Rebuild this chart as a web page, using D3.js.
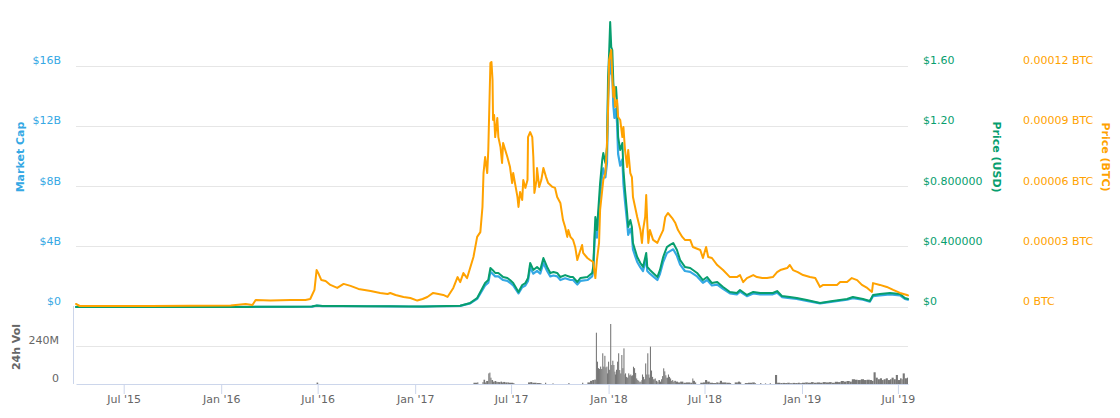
<!DOCTYPE html>
<html><head><meta charset="utf-8">
<script src="https://cdn.jsdelivr.net/npm/d3@7"></script>
<style>body{margin:0;background:#fff}svg{display:block;font-family:"DejaVu Sans",sans-serif}</style>
</head><body><svg id="c" width="1120" height="418"></svg>
<script>
// ---- data ----
const priceUsd = [["2015-04-02",0.0007],["2015-05-01",0.0004],["2015-07-01",0.0003],["2015-09-01",0.0002],["2015-12-01",0.0002],["2016-01-15",0.0002],["2016-02-20",0.0007],["2016-03-10",0.0015],["2016-05-15",0.0017],["2016-06-20",0.003],["2016-06-29",0.0095],["2016-07-10",0.007],["2016-08-15",0.006],["2016-10-01",0.0055],["2016-11-15",0.0045],["2016-12-20",0.0037],["2017-01-15",0.0035],["2017-02-10",0.0055],["2017-03-03",0.0065],["2017-03-27",0.008],["2017-04-15",0.027],["2017-04-28",0.060],["2017-05-08",0.126],["2017-05-13",0.159],["2017-05-19",0.179],["2017-05-23",0.259],["2017-05-27",0.246],["2017-06-01",0.226],["2017-06-07",0.226],["2017-06-16",0.199],["2017-06-24",0.193],["2017-06-29",0.179],["2017-07-05",0.159],["2017-07-15",0.100],["2017-07-22",0.146],["2017-07-28",0.159],["2017-08-02",0.193],["2017-08-06",0.292],["2017-08-12",0.246],["2017-08-19",0.266],["2017-08-25",0.246],["2017-08-31",0.325],["2017-09-07",0.266],["2017-09-13",0.226],["2017-09-19",0.232],["2017-09-26",0.226],["2017-10-02",0.199],["2017-10-11",0.212],["2017-10-21",0.199],["2017-10-26",0.199],["2017-11-03",0.166],["2017-11-09",0.193],["2017-11-22",0.199],["2017-12-01",0.226],["2017-12-03",0.266],["2017-12-07",0.598],["2017-12-10",0.511],["2017-12-16",0.823],["2017-12-20",0.976],["2017-12-22",1.022],["2017-12-26",0.956],["2017-12-29",1.062],["2017-12-31",1.527],["2018-01-02",1.686],["2018-01-04",1.892],["2018-01-06",1.726],["2018-01-08",1.706],["2018-01-10",1.487],["2018-01-12",1.394],["2018-01-15",1.461],["2018-01-17",1.354],["2018-01-19",1.129],["2018-01-23",1.042],["2018-01-27",1.089],["2018-01-29",0.910],["2018-02-01",0.777],["2018-02-05",0.624],["2018-02-07",0.531],["2018-02-11",0.578],["2018-02-14",0.531],["2018-02-16",0.425],["2018-02-20",0.378],["2018-02-24",0.332],["2018-03-02",0.292],["2018-03-07",0.266],["2018-03-13",0.359],["2018-03-15",0.266],["2018-03-20",0.246],["2018-03-26",0.226],["2018-04-03",0.199],["2018-04-08",0.246],["2018-04-14",0.332],["2018-04-21",0.398],["2018-04-27",0.412],["2018-05-03",0.425],["2018-05-10",0.378],["2018-05-16",0.312],["2018-05-25",0.266],["2018-06-04",0.259],["2018-06-17",0.226],["2018-06-28",0.179],["2018-07-06",0.199],["2018-07-15",0.159],["2018-07-25",0.166],["2018-08-05",0.133],["2018-08-18",0.100],["2018-08-31",0.093],["2018-09-06",0.113],["2018-09-19",0.080],["2018-10-01",0.100],["2018-10-14",0.093],["2018-11-07",0.093],["2018-11-15",0.106],["2018-11-24",0.073],["2018-12-09",0.066],["2018-12-22",0.060],["2019-01-10",0.046],["2019-02-04",0.027],["2019-02-28",0.040],["2019-03-27",0.053],["2019-04-07",0.066],["2019-04-26",0.053],["2019-05-09",0.040],["2019-05-15",0.080],["2019-05-28",0.086],["2019-06-16",0.093],["2019-07-05",0.086],["2019-07-14",0.060],["2019-07-20",0.053]];

// market cap in billions USD
const marketCap = [["2015-04-02",0.0063],["2015-05-01",0.0036],["2015-07-01",0.0027],["2015-09-01",0.0018],["2015-12-01",0.0018],["2016-01-15",0.0018],["2016-02-20",0.0063],["2016-03-10",0.0135],["2016-05-15",0.0153],["2016-06-20",0.027],["2016-06-29",0.0855],["2016-07-10",0.063],["2016-08-15",0.054],["2016-10-01",0.0495],["2016-11-15",0.0405],["2016-12-20",0.0333],["2017-01-15",0.0315],["2017-02-10",0.0495],["2017-03-03",0.0585],["2017-03-27",0.072],["2017-04-15",0.243],["2017-04-28",0.54],["2017-05-08",1.134],["2017-05-13",1.431],["2017-05-19",1.611],["2017-05-23",2.331],["2017-05-27",2.214],["2017-06-01",2.034],["2017-06-07",2.034],["2017-06-16",1.791],["2017-06-24",1.737],["2017-06-29",1.611],["2017-07-05",1.431],["2017-07-15",0.90],["2017-07-22",1.314],["2017-07-28",1.431],["2017-08-02",1.737],["2017-08-06",2.628],["2017-08-12",2.214],["2017-08-19",2.394],["2017-08-25",2.214],["2017-08-31",2.925],["2017-09-07",2.394],["2017-09-13",2.034],["2017-09-19",2.088],["2017-09-26",2.034],["2017-10-02",1.791],["2017-10-11",1.908],["2017-10-21",1.791],["2017-10-26",1.791],["2017-11-03",1.494],["2017-11-09",1.737],["2017-11-22",1.791],["2017-12-01",2.034],["2017-12-03",2.394],["2017-12-07",5.38],["2017-12-10",4.60],["2017-12-16",7.41],["2017-12-20",8.78],["2017-12-22",9.20],["2017-12-26",8.60],["2017-12-29",9.56],["2017-12-31",13.74],["2018-01-02",15.17],["2018-01-04",17.03],["2018-01-06",15.53],["2018-01-08",15.35],["2018-01-10",13.38],["2018-01-12",12.55],["2018-01-15",13.15],["2018-01-17",12.19],["2018-01-19",10.16],["2018-01-23",9.38],["2018-01-27",9.80],["2018-01-29",8.19],["2018-02-01",6.99],["2018-02-05",5.62],["2018-02-07",4.78],["2018-02-11",5.20],["2018-02-14",4.78],["2018-02-16",3.83],["2018-02-20",3.40],["2018-02-24",2.99],["2018-03-02",2.63],["2018-03-07",2.39],["2018-03-13",3.23],["2018-03-15",2.39],["2018-03-20",2.21],["2018-03-26",2.03],["2018-04-03",1.79],["2018-04-08",2.21],["2018-04-14",2.99],["2018-04-21",3.58],["2018-04-27",3.71],["2018-05-03",3.83],["2018-05-10",3.40],["2018-05-16",2.81],["2018-05-25",2.39],["2018-06-04",2.33],["2018-06-17",2.03],["2018-06-28",1.61],["2018-07-06",1.79],["2018-07-15",1.43],["2018-07-25",1.49],["2018-08-05",1.20],["2018-08-18",0.90],["2018-08-31",0.84],["2018-09-06",1.02],["2018-09-19",0.72],["2018-10-01",0.90],["2018-10-14",0.84],["2018-11-07",0.84],["2018-11-15",0.95],["2018-11-24",0.66],["2018-12-09",0.59],["2018-12-22",0.54],["2019-01-10",0.41],["2019-02-04",0.24],["2019-02-28",0.36],["2019-03-27",0.48],["2019-04-07",0.59],["2019-04-26",0.48],["2019-05-09",0.36],["2019-05-15",0.72],["2019-05-28",0.77],["2019-06-16",0.84],["2019-07-05",0.77],["2019-07-14",0.54],["2019-07-20",0.48]];

const priceBtc = [["2015-04-02",0.0000015],["2015-04-09",0.0000005],["2015-08-21",0.0000005],["2016-01-19",0.00000075],["2016-02-16",0.0000015],["2016-02-29",0.000001],["2016-03-06",0.0000035],["2016-04-03",0.0000032],["2016-05-11",0.0000035],["2016-06-08",0.0000035],["2016-06-17",0.000004],["2016-06-25",0.0000085],["2016-06-29",0.0000184],["2016-07-03",0.0000164],["2016-07-08",0.0000134],["2016-07-16",0.0000129],["2016-07-25",0.000011],["2016-08-07",0.0000095],["2016-08-19",0.0000115],["2016-09-01",0.0000105],["2016-09-16",0.000009],["2016-10-09",0.000008],["2016-10-27",0.000007],["2016-11-10",0.0000065],["2016-11-15",0.000007],["2016-11-25",0.000006],["2016-12-10",0.000005],["2016-12-23",0.0000045],["2017-01-05",0.0000032],["2017-01-15",0.000004],["2017-01-24",0.000005],["2017-02-04",0.000007],["2017-02-14",0.0000065],["2017-02-23",0.000006],["2017-03-03",0.000005],["2017-03-14",0.0000095],["2017-03-22",0.0000149],["2017-03-27",0.0000124],["2017-04-02",0.0000169],["2017-04-09",0.0000144],["2017-04-21",0.0000249],["2017-04-28",0.0000349],["2017-05-04",0.0000373],["2017-05-08",0.0000498],["2017-05-10",0.0000667],["2017-05-13",0.0000747],["2017-05-17",0.0000667],["2017-05-19",0.0000782],["2017-05-23",0.0001215],["2017-05-25",0.000122],["2017-05-27",0.000113],["2017-05-28",0.0000931],["2017-05-30",0.0000956],["2017-06-01",0.0000846],["2017-06-05",0.0000941],["2017-06-07",0.0000846],["2017-06-11",0.0000797],["2017-06-14",0.0000717],["2017-06-16",0.0000817],["2017-06-20",0.0000782],["2017-06-24",0.0000747],["2017-06-29",0.0000697],["2017-07-03",0.0000617],["2017-07-05",0.0000667],["2017-07-13",0.0000548],["2017-07-15",0.0000498],["2017-07-18",0.0000573],["2017-07-22",0.0000533],["2017-07-24",0.0000632],["2017-07-28",0.0000593],["2017-08-01",0.0000632],["2017-08-02",0.0000846],["2017-08-06",0.0000871],["2017-08-10",0.0000846],["2017-08-12",0.0000747],["2017-08-14",0.0000568],["2017-08-18",0.0000632],["2017-08-19",0.0000692],["2017-08-23",0.0000598],["2017-08-27",0.0000632],["2017-08-31",0.0000692],["2017-09-05",0.0000647],["2017-09-09",0.0000617],["2017-09-17",0.0000598],["2017-09-22",0.0000593],["2017-09-26",0.0000548],["2017-10-02",0.0000518],["2017-10-07",0.0000433],["2017-10-11",0.0000398],["2017-10-15",0.0000349],["2017-10-17",0.0000383],["2017-10-21",0.0000349],["2017-10-26",0.0000334],["2017-10-30",0.0000299],["2017-11-03",0.0000234],["2017-11-07",0.0000269],["2017-11-12",0.0000309],["2017-11-14",0.0000269],["2017-11-22",0.0000244],["2017-11-27",0.0000234],["2017-12-03",0.0000224],["2017-12-07",0.0000144],["2017-12-10",0.0000234],["2017-12-14",0.0000319],["2017-12-16",0.0000483],["2017-12-22",0.0000632],["2017-12-26",0.0000667],["2017-12-29",0.0000817],["2017-12-31",0.0000981],["2018-01-02",0.000123],["2018-01-06",0.000128],["2018-01-08",0.0001145],["2018-01-10",0.0001046],["2018-01-12",0.0001095],["2018-01-13",0.0000996],["2018-01-17",0.0001031],["2018-01-19",0.0000946],["2018-01-23",0.0000931],["2018-01-27",0.0000846],["2018-01-29",0.0000896],["2018-02-01",0.0000782],["2018-02-05",0.0000697],["2018-02-07",0.0000782],["2018-02-11",0.0000667],["2018-02-14",0.0000647],["2018-02-16",0.0000548],["2018-02-24",0.0000448],["2018-03-02",0.0000383],["2018-03-05",0.0000319],["2018-03-07",0.0000383],["2018-03-11",0.0000448],["2018-03-13",0.0000558],["2018-03-15",0.0000418],["2018-03-17",0.0000319],["2018-03-20",0.0000383],["2018-03-26",0.0000334],["2018-04-03",0.0000319],["2018-04-08",0.0000349],["2018-04-14",0.0000383],["2018-04-18",0.0000448],["2018-04-23",0.0000468],["2018-05-01",0.0000443],["2018-05-07",0.0000418],["2018-05-12",0.0000383],["2018-05-20",0.0000349],["2018-05-25",0.0000334],["2018-06-04",0.0000334],["2018-06-09",0.0000299],["2018-06-23",0.0000284],["2018-06-28",0.0000244],["2018-07-04",0.0000299],["2018-07-08",0.0000249],["2018-07-15",0.0000244],["2018-07-25",0.0000209],["2018-08-05",0.0000184],["2018-08-18",0.0000149],["2018-08-31",0.0000149],["2018-09-06",0.0000159],["2018-09-12",0.0000124],["2018-09-19",0.0000144],["2018-10-01",0.0000159],["2018-10-08",0.0000149],["2018-10-18",0.0000144],["2018-10-27",0.0000144],["2018-11-07",0.0000149],["2018-11-15",0.0000174],["2018-11-21",0.0000184],["2018-12-04",0.0000194],["2018-12-09",0.0000209],["2018-12-15",0.0000184],["2018-12-24",0.0000174],["2019-01-03",0.0000159],["2019-01-16",0.0000149],["2019-01-26",0.0000144],["2019-02-04",0.00001],["2019-02-10",0.000011],["2019-02-23",0.000011],["2019-03-08",0.000011],["2019-03-14",0.0000124],["2019-03-27",0.0000124],["2019-04-05",0.0000144],["2019-04-15",0.0000134],["2019-04-24",0.000011],["2019-05-04",0.0000095],["2019-05-13",0.0000075],["2019-05-15",0.0000119],["2019-05-28",0.000011],["2019-06-10",0.00001],["2019-06-22",0.0000085],["2019-07-05",0.000007],["2019-07-18",0.000006],["2019-07-20",0.0000058]];

// 24h volume in millions USD
const volume24h = [["2015-04-02",0.1],["2016-06-29",9],["2016-07-02",0.5],["2017-04-21",8],["2017-04-28",10],["2017-05-08",12],["2017-05-10",27],["2017-05-13",10],["2017-05-15",19],["2017-05-19",67],["2017-05-21",72],["2017-05-23",40],["2017-05-25",25],["2017-05-28",15],["2017-05-31",19],["2017-06-03",14],["2017-06-05",13],["2017-06-08",12],["2017-06-11",15],["2017-06-14",10],["2017-06-16",13],["2017-06-20",10],["2017-06-24",10],["2017-06-27",8],["2017-07-05",6],["2017-08-02",10],["2017-08-06",12],["2017-08-10",8],["2017-08-18",6],["2017-08-25",6],["2017-09-03",8],["2017-09-17",4],["2017-10-17",6],["2017-11-12",8],["2017-11-22",10],["2017-11-27",20],["2017-12-01",25],["2017-12-05",28],["2017-12-08",324],["2017-12-10",141],["2017-12-12",100],["2017-12-14",95],["2017-12-16",110],["2017-12-18",95],["2017-12-20",194],["2017-12-22",110],["2017-12-24",178],["2017-12-26",105],["2017-12-28",110],["2017-12-29",67],["2017-12-31",141],["2018-01-02",90],["2018-01-04",379],["2018-01-06",120],["2018-01-08",147],["2018-01-10",120],["2018-01-12",78],["2018-01-13",60],["2018-01-15",90],["2018-01-17",141],["2018-01-19",194],["2018-01-21",88],["2018-01-23",67],["2018-01-25",183],["2018-01-27",100],["2018-01-29",225],["2018-01-31",60],["2018-02-01",67],["2018-02-03",45],["2018-02-05",40],["2018-02-07",67],["2018-02-09",55],["2018-02-11",60],["2018-02-12",50],["2018-02-14",55],["2018-02-16",109],["2018-02-18",100],["2018-02-20",70],["2018-02-22",35],["2018-02-24",25],["2018-02-26",20],["2018-02-28",12],["2018-03-02",15],["2018-03-04",25],["2018-03-05",60],["2018-03-07",45],["2018-03-09",30],["2018-03-11",130],["2018-03-13",60],["2018-03-15",194],["2018-03-17",60],["2018-03-18",40],["2018-03-20",236],["2018-03-22",85],["2018-03-24",45],["2018-03-26",30],["2018-03-29",35],["2018-03-31",20],["2018-04-03",12],["2018-04-05",25],["2018-04-08",15],["2018-04-10",30],["2018-04-12",50],["2018-04-14",99],["2018-04-16",80],["2018-04-18",55],["2018-04-20",40],["2018-04-23",60],["2018-04-25",45],["2018-04-27",35],["2018-04-29",20],["2018-05-01",25],["2018-05-03",15],["2018-05-05",20],["2018-05-08",15],["2018-05-12",10],["2018-05-16",15],["2018-05-22",8],["2018-05-27",10],["2018-06-04",8],["2018-06-08",35],["2018-06-09",20],["2018-06-13",10],["2018-06-23",8],["2018-06-28",10],["2018-07-02",25],["2018-07-06",15],["2018-07-11",8],["2018-07-17",6],["2018-07-23",10],["2018-07-27",8],["2018-07-30",20],["2018-08-03",10],["2018-08-11",8],["2018-08-18",6],["2018-08-27",10],["2018-09-02",15],["2018-09-06",10],["2018-09-15",6],["2018-09-21",8],["2018-09-29",10],["2018-10-04",5],["2018-10-14",6],["2018-10-23",4],["2018-11-01",5],["2018-11-11",57],["2018-11-15",8],["2018-11-21",6],["2018-11-25",7],["2018-11-30",6],["2018-12-04",8],["2018-12-09",5],["2018-12-14",7],["2018-12-19",6],["2018-12-24",8],["2018-12-28",5],["2019-01-01",8],["2019-01-07",10],["2019-01-12",8],["2019-01-18",12],["2019-01-23",8],["2019-01-29",10],["2019-02-04",8],["2019-02-09",12],["2019-02-15",10],["2019-02-21",12],["2019-02-26",8],["2019-03-04",14],["2019-03-10",12],["2019-03-15",19],["2019-03-21",15],["2019-03-26",19],["2019-04-01",15],["2019-04-05",30],["2019-04-11",27],["2019-04-16",25],["2019-04-22",30],["2019-04-28",25],["2019-05-03",27],["2019-05-09",25],["2019-05-13",20],["2019-05-16",74],["2019-05-20",40],["2019-05-24",30],["2019-05-28",36],["2019-06-01",25],["2019-06-04",30],["2019-06-08",36],["2019-06-12",25],["2019-06-16",30],["2019-06-19",40],["2019-06-23",30],["2019-06-27",57],["2019-07-01",25],["2019-07-05",36],["2019-07-08",30],["2019-07-10",67],["2019-07-14",36],["2019-07-18",40]];

const capTicks = [0, 4, 8, 12, 16];
const capLabels = ["$0", "$4B", "$8B", "$12B", "$16B"];
const usdTicks = [0, 0.4, 0.8, 1.2, 1.6];
const usdLabels = ["$0", "$0.400000", "$0.800000", "$1.20", "$1.60"];
const btcTicks = [0, 0.00003, 0.00006, 0.00009, 0.00012];
const btcLabels = ["0 BTC", "0.00003 BTC", "0.00006 BTC", "0.00009 BTC", "0.00012 BTC"];
const volTicks = [0, 240];
const volLabels = ["0", "240M"];
const xTickDates = ["2015-07-01","2016-01-01","2016-07-01","2017-01-01","2017-07-01","2018-01-01","2018-07-01","2019-01-01","2019-07-01"];
const xTickLabels = ["Jul '15","Jan '16","Jul '16","Jan '17","Jul '17","Jan '18","Jul '18","Jan '19","Jul '19"];

// ---- drawing ----
const C_CAP = "#35a8e4", C_USD = "#079e6e", C_BTC = "#ffa200";
const parse = d3.utcParse("%Y-%m-%d");
const svg = d3.select("#c");
const L = 76, R = 908, Y0 = 307, YT = 66, V0 = 384, VT = 346;

const x = d3.scaleUtc().domain([parse("2015-04-02"), parse("2019-07-20")]).range([L, R]);
const yCap = d3.scaleLinear().domain([0, 16]).range([Y0, YT]);
const yUsd = d3.scaleLinear().domain([0, 1.6]).range([Y0, YT]);
const yBtc = d3.scaleLinear().domain([0, 0.00012]).range([Y0, YT]);
const yVol = d3.scaleLinear().domain([0, 240]).range([V0, VT]);

svg.append("rect").attr("width",1120).attr("height",418).attr("fill","#fff");

// grid lines
svg.append("g").selectAll("line").data(capTicks).join("line")
  .attr("x1", L).attr("x2", R).attr("y1", d=>yCap(d)).attr("y2", d=>yCap(d))
  .attr("stroke","#e6e6e6").attr("stroke-width",1).attr("shape-rendering","crispEdges");
svg.append("line").attr("x1", L).attr("x2", R).attr("y1", yVol(240)).attr("y2", yVol(240))
  .attr("stroke","#e6e6e6").attr("shape-rendering","crispEdges");

// volume pane left line
svg.append("line").attr("x1",73.5).attr("x2",73.5).attr("y1",306).attr("y2",V0)
  .attr("stroke","#ccd6eb");

// volume bars
const vol = volume24h.map(d=>({t:parse(d[0]), v:d[1]}));
svg.append("g").selectAll("rect").data(vol).join("rect")
  .attr("x", d=>x(d.t))
  .attr("width", (d,i)=>{ const nx = i<vol.length-1 ? x(vol[i+1].t) : R; const g = nx - x(d.t); return g <= 4.5 ? Math.max(g,1) : 1.2; })
  .attr("y", d=>yVol(d.v)).attr("height", d=>V0 - yVol(d.v))
  .attr("fill","#777");

// lines
function drawLine(data, yS, color, w){
  const pts = data.map(d=>[x(parse(d[0])), yS(d[1])]);
  svg.append("path").attr("d", d3.line()(pts)).attr("fill","none")
    .attr("stroke", color).attr("stroke-width", w).attr("stroke-linejoin","round").attr("stroke-linecap","round");
}
drawLine(marketCap, yCap, C_CAP, 2.2);
drawLine(priceUsd, yUsd, C_USD, 2);
drawLine(priceBtc, yBtc, C_BTC, 2);

// axes
function styleAxis(g, color){
  g.select(".domain").remove();
  g.selectAll("text").attr("fill", color).attr("font-size", 11).attr("font-family", '"DejaVu Sans",sans-serif');
  g.selectAll(".tick line").remove();
}
svg.append("g").attr("transform","translate(61,-6)")
  .call(d3.axisLeft(yCap).tickValues(capTicks).tickFormat((d,i)=>capLabels[i]).tickSize(0).tickPadding(0))
  .call(g=>styleAxis(g, C_CAP));
svg.append("g").attr("transform","translate(923,-6)")
  .call(d3.axisRight(yUsd).tickValues(usdTicks).tickFormat((d,i)=>usdLabels[i]).tickSize(0).tickPadding(0))
  .call(g=>styleAxis(g, C_USD));
svg.append("g").attr("transform","translate(1023,-6)")
  .call(d3.axisRight(yBtc).tickValues(btcTicks).tickFormat((d,i)=>btcLabels[i]).tickSize(0).tickPadding(0))
  .call(g=>styleAxis(g, C_BTC));
svg.append("g").attr("transform","translate(59,-6)")
  .call(d3.axisLeft(yVol).tickValues(volTicks).tickFormat((d,i)=>volLabels[i]).tickSize(0).tickPadding(0))
  .call(g=>styleAxis(g, "#666"));

const xAxis = svg.append("g").attr("transform",`translate(0,${V0})`)
  .call(d3.axisBottom(x).tickValues(xTickDates.map(parse)).tickFormat((d,i)=>xTickLabels[i]).tickSize(10).tickSizeOuter(0).tickPadding(1));
xAxis.select(".domain").attr("stroke","#ccd6eb");
xAxis.selectAll(".tick line").attr("stroke","#ccd6eb");
xAxis.selectAll("text").attr("fill","#666").attr("font-size",11).attr("font-family",'"DejaVu Sans",sans-serif');

// axis titles
function title(txt, tx, ty, rot, color){
  svg.append("text").attr("transform",`translate(${tx},${ty}) rotate(${rot})`)
    .attr("text-anchor","middle").attr("font-size",11).attr("font-weight","bold")
    .attr("fill",color).text(txt);
}
title("Market Cap", 24, 157, -90, C_CAP);
title("Price (USD)", 993, 157, 90, C_USD);
title("Price (BTC)", 1102, 157, 90, C_BTC);
title("24h Vol", 20, 347, -90, "#666");
</script></body></html>
